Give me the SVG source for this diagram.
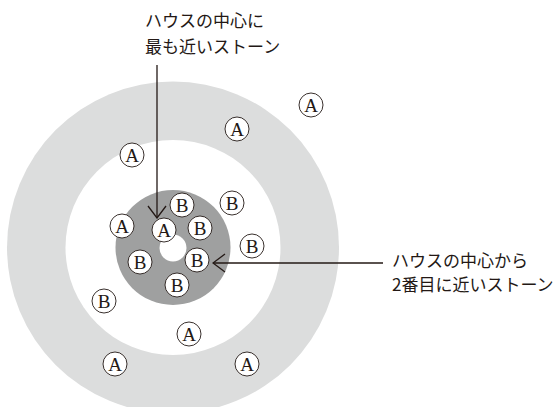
<svg xmlns="http://www.w3.org/2000/svg" width="560" height="407" viewBox="0 0 560 407">
<style>
.lbl{font-family:"Noto Sans CJK JP","Noto Sans",sans-serif;font-size:17px;fill:#231815}
.st circle{fill:#fff;stroke:#231815;stroke-width:0.9}
.st text{font-family:"Liberation Serif",serif;font-size:19px;fill:#231815;text-anchor:middle}
.ln{stroke:#231815;stroke-width:1.3;fill:none}
</style>
<defs>
<marker id="ah" viewBox="0 0 14 20" refX="13" refY="10" markerWidth="14" markerHeight="20" markerUnits="userSpaceOnUse" orient="auto">
<path d="M1,1 L13,10 L1,19" fill="none" stroke="#231815" stroke-width="1.3"/>
</marker>
</defs>
<rect width="560" height="407" fill="#fff"/>
<g id="house">
<circle cx="173" cy="247.5" r="166" fill="#dcdddd"/>
<circle cx="173" cy="247.5" r="107.5" fill="#fff"/>
<circle cx="173" cy="247.5" r="57.5" fill="#9fa0a0"/>
<circle cx="173" cy="248" r="13.5" fill="#fff"/>
</g>
<g id="stones">
<g class="st" id="a1"><circle cx="311" cy="105" r="12"/><text x="311" y="112">A</text></g>
<g class="st" id="a2"><circle cx="237" cy="129" r="12"/><text x="237" y="136">A</text></g>
<g class="st" id="a3"><circle cx="132" cy="155" r="12"/><text x="132" y="162">A</text></g>
<g class="st" id="a4"><circle cx="122" cy="226" r="12"/><text x="122" y="233">A</text></g>
<g class="st" id="a5"><circle cx="164" cy="230" r="12"/><text x="164" y="237">A</text></g>
<g class="st" id="a6"><circle cx="189" cy="334" r="12"/><text x="189" y="341">A</text></g>
<g class="st" id="a7"><circle cx="115" cy="364" r="12"/><text x="115" y="371">A</text></g>
<g class="st" id="a8"><circle cx="247" cy="364" r="12"/><text x="247" y="371">A</text></g>
<g class="st" id="b1"><circle cx="182" cy="205" r="12"/><text x="182" y="212">B</text></g>
<g class="st" id="b2"><circle cx="232" cy="203" r="12"/><text x="232" y="210">B</text></g>
<g class="st" id="b3"><circle cx="200" cy="228" r="12"/><text x="200" y="235">B</text></g>
<g class="st" id="b4"><circle cx="252" cy="246" r="12"/><text x="252" y="253">B</text></g>
<g class="st" id="b5"><circle cx="140" cy="262" r="12"/><text x="140" y="269">B</text></g>
<g class="st" id="b6"><circle cx="197" cy="260" r="12"/><text x="197" y="267">B</text></g>
<g class="st" id="b7"><circle cx="177" cy="285" r="12"/><text x="177" y="292">B</text></g>
<g class="st" id="b8"><circle cx="104" cy="301" r="12"/><text x="104" y="308">B</text></g>
</g>
<g id="connectors">
<line class="ln" x1="157" y1="65" x2="157" y2="218" marker-end="url(#ah)"/>
<line class="ln" x1="383" y1="263" x2="213" y2="263" marker-end="url(#ah)"/>
</g>
<g id="label1">
<text class="lbl" x="145" y="27">ハウスの中心に</text>
<text class="lbl" x="145" y="53">最も近いストーン</text>
</g>
<g id="label2">
<text class="lbl" x="392" y="267">ハウスの中心から</text>
<text class="lbl" x="392" y="291">2番目に近いストーン</text>
</g>
</svg>
